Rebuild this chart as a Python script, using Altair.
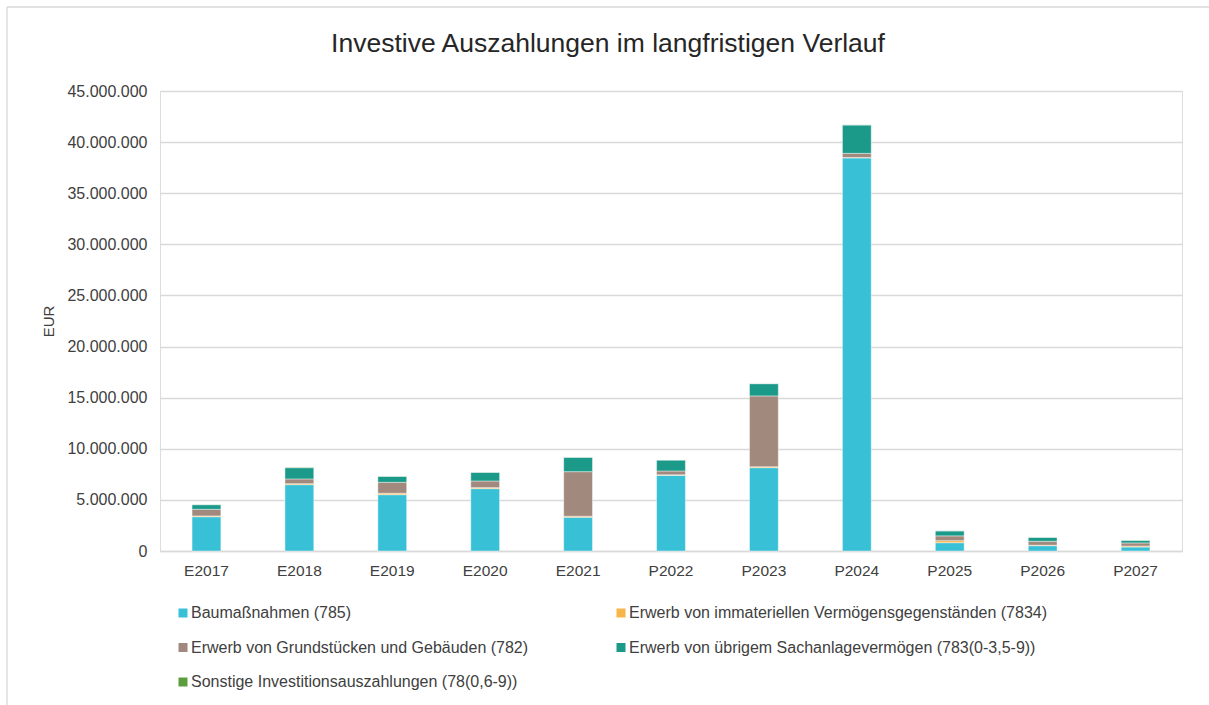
import altair as alt
import pandas as pd

# Categories (actuals "E", plans "P")
years = ["E2017", "E2018", "E2019", "E2020", "E2021", "P2022",
         "P2023", "P2024", "P2025", "P2026", "P2027"]

# Series values in EUR
baumassnahmen = [3350000, 6490000, 5510000, 6100000, 3300000, 7400000,
                 8150000, 38450000, 810000, 520000, 390000]
immateriell = [80000, 100000, 140000, 100000, 100000, 50000,
               100000, 50000, 200000, 50000, 90000]
grundstuecke = [650000, 460000, 1070000, 650000, 4360000, 380000,
                6920000, 400000, 470000, 380000, 310000]
sachanlage = [450000, 1100000, 590000, 850000, 1410000, 1070000,
              1200000, 2780000, 490000, 390000, 260000]
sonstige = [20000, 50000, 10000, 10000, 10000, 10000,
            10000, 10000, 10000, 10000, 10000]

series_names = [
    "Baumaßnahmen (785)",
    "Erwerb von immateriellen Vermögensgegenständen (7834)",
    "Erwerb von Grundstücken und Gebäuden (782)",
    "Erwerb von übrigem Sachanlagevermögen (783(0-3,5-9))",
    "Sonstige Investitionsauszahlungen (78(0,6-9))",
]
series_colors = ["#37C0D6", "#F9B44A", "#A2897D", "#1B9A8A", "#5C9E3C"]
series_values = [baumassnahmen, immateriell, grundstuecke, sachanlage, sonstige]

y_ticks = [0, 5000000, 10000000, 15000000, 20000000, 25000000,
           30000000, 35000000, 40000000, 45000000]

chart_title = "Investive Auszahlungen im langfristigen Verlauf"

rows = []
for idx, (name, vals) in enumerate(zip(series_names, series_values)):
    for year, v in zip(years, vals):
        rows.append({"Jahr": year, "Reihe": name, "Wert": v, "idx": idx})
df = pd.DataFrame(rows)

FONT = "Liberation Sans"
GRID = "#D9D9D9"
TEXT = "#404040"

bars = alt.Chart(df).mark_bar(
    stroke="white", strokeWidth=0.6, strokeOpacity=0.7
).encode(
    x=alt.X(
        "Jahr:N",
        sort=years,
        scale=alt.Scale(paddingInner=0.69, paddingOuter=0.345),
        axis=alt.Axis(
            title=None, labelAngle=0, ticks=False, domain=True,
            domainColor=GRID, domainWidth=1.3, labelPadding=12,
            labelFontSize=15.5, labelColor=TEXT, labelFont=FONT,
        ),
    ),
    y=alt.Y(
        "Wert:Q",
        stack="zero",
        scale=alt.Scale(domain=[0, 45000000], nice=False),
        axis=alt.Axis(
            title="EUR", values=y_ticks, ticks=False, domain=False,
            grid=True, gridColor=GRID, gridWidth=1.3,
            labelExpr="replace(format(datum.value, ','), /,/g, '.')",
            labelFontSize=16, labelColor=TEXT, labelFont=FONT, labelPadding=13,
            titleFont=FONT, titleFontSize=15, titleColor=TEXT,
            titleFontWeight="normal", titleX=-104,
        ),
    ),
    color=alt.Color(
        "Reihe:N",
        scale=alt.Scale(domain=series_names, range=series_colors),
        legend=alt.Legend(
            title=None, orient="none", direction="horizontal",
            legendX=15, legendY=514,
            columns=2, columnPadding=84, rowPadding=18.5,
            symbolType="square", symbolSize=81, symbolStrokeWidth=0,
            labelFontSize=16, labelColor=TEXT, labelFont=FONT,
            labelOffset=0, labelLimit=600,
        ),
    ),
    order=alt.Order("idx:Q", sort="ascending"),
)

# Chart heading, centred over the whole canvas
heading = alt.Chart(alt.Data(values=[{"t": chart_title}])).mark_text(
    font=FONT, fontSize=26.5, color="#262626", align="center",
    baseline="alphabetic",
).encode(x=alt.value(448), y=alt.value(-39), text="t:N")

# Frame lines along the top and left edge of the chart area
frame = alt.Chart(alt.Data(values=[{}])).mark_rule(
    color=GRID, strokeWidth=1.3
)
top_line = frame.encode(x=alt.value(-153), x2=alt.value(1049),
                        y=alt.value(-84), y2=alt.value(-84))
left_line = frame.encode(x=alt.value(-153), x2=alt.value(-153),
                         y=alt.value(-84), y2=alt.value(620))

chart = alt.layer(bars, heading, top_line, left_line).properties(
    width=1022,
    height=460,
    padding={"left": 160, "top": 91, "right": 27, "bottom": 154},
    autosize=alt.AutoSizeParams(type="none"),
).configure_view(stroke=None).configure(background="white")

chart.save("out.html", embed_options={"renderer": "svg", "actions": False})
